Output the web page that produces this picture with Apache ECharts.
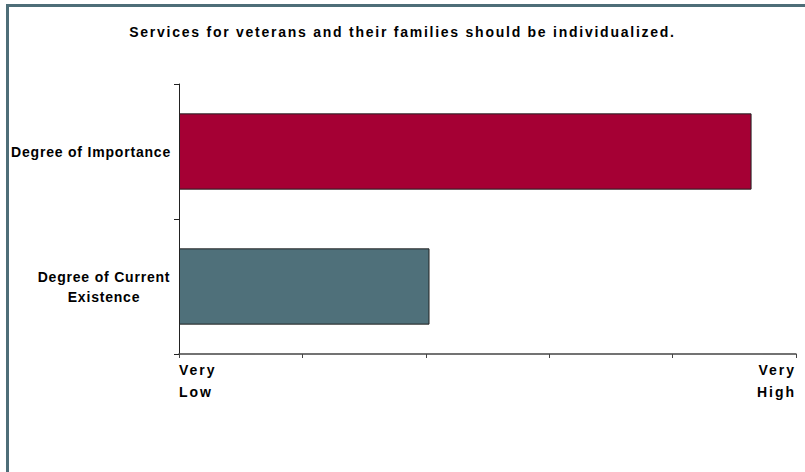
<!DOCTYPE html>
<html>
<head>
<meta charset="utf-8">
<script src="https://cdn.jsdelivr.net/npm/echarts@6/dist/echarts.min.js"></script>
<style>
html,body{margin:0;padding:0;background:#fff;}
#c{width:805px;height:472px;}
</style>
</head>
<body>
<div id="c"></div>
<script>
const titleText = 'Services for veterans and their families should be individualized.';
const categories = ['Degree of Importance', 'Degree of Current\nExistence'];
const values = [4.64, 2.03];
const barColors = ['#a50034', '#4f707a'];
const tickLabels = {0: 'Very\nLow', 5: 'Very\nHigh'};

const chart = echarts.init(document.getElementById('c'), null, {renderer: 'svg'});
const font = 'Liberation Sans, Arial, sans-serif';
chart.setOption({
  backgroundColor: '#ffffff',
  animation: false,
  title: {
    text: titleText,
    left: 'center',
    top: 20,
    padding: [5, 5, 5, 13],
    textStyle: {fontFamily: font, fontSize: 14, fontWeight: 'bold', color: '#000'}
  },
  graphic: [{
    type: 'rect',
    shape: {x: 7.5, y: 5.5, width: 1000, height: 1000},
    style: {fill: 'none', stroke: '#4e6e78', lineWidth: 3},
    silent: true,
    z: -1
  }],
  grid: {left: 179, right: 9, top: 84, bottom: 118, containLabel: false},
  xAxis: {
    type: 'value',
    position: 'bottom',
    min: 0, max: 5, interval: 1,
    axisLine: {show: true, onZero: false, lineStyle: {color: '#444', width: 1.5, type: 'solid', opacity: 1}},
    axisTick: {show: true, length: 4, lineStyle: {color: '#444'}},
    splitLine: {show: false},
    axisLabel: {
      formatter: v => tickLabels[v] || '',
      fontFamily: font, fontSize: 14, fontWeight: 'bold', color: '#000',
      lineHeight: 22, margin: 5,
      alignMinLabel: 'left', alignMaxLabel: 'right',
      showMinLabel: true, showMaxLabel: true
    }
  },
  yAxis: {
    type: 'category',
    inverse: true,
    data: [
      {value: categories[0]},
      {value: categories[1], textStyle: {align: 'center', padding: [0, 134, 0, 0]}}
    ],
    axisLine: {show: true, onZero: false, lineStyle: {color: '#222', width: 1}},
    axisTick: {show: true, length: 5, lineStyle: {color: '#222'}},
    axisLabel: {
      fontFamily: font, fontSize: 14, fontWeight: 'bold', color: '#000',
      lineHeight: 20, margin: 8
    }
  },
  series: [{
    type: 'bar',
    data: values.map((v, i) => ({value: v, itemStyle: {color: barColors[i]}})),
    barCategoryGap: '43.5%',
    itemStyle: {borderColor: '#222', borderWidth: 1}
  }]
});

function applySpacing() {
  const texts = document.querySelectorAll('#c svg text');
  texts.forEach(t => {
    const s = t.textContent.trim();
    let ls = 0.8;
    if (s === titleText) ls = 1.75;
    else if (s === 'Very' || s === 'Low' || s === 'High') ls = 2;
    t.setAttribute('letter-spacing', ls);
  });
}
applySpacing();
chart.on('finished', applySpacing);
setTimeout(applySpacing, 0);
requestAnimationFrame(applySpacing);
</script>
</body>
</html>
